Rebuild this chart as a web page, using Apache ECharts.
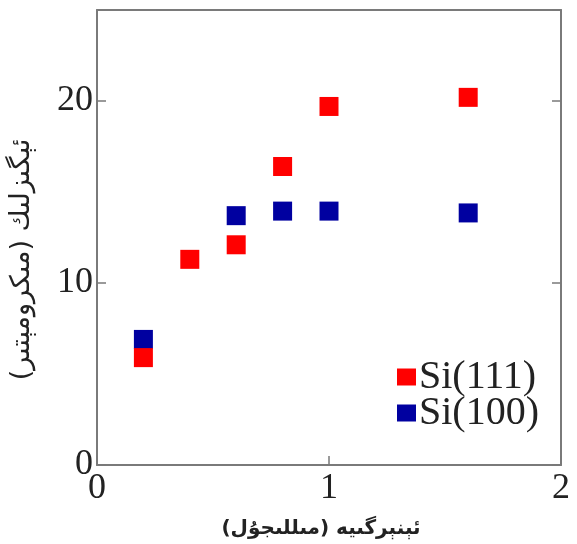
<!DOCTYPE html>
<html>
<head>
<meta charset="utf-8">
<script src="https://cdn.jsdelivr.net/npm/echarts@6/dist/echarts.min.js"></script>
<style>
  html, body { margin: 0; padding: 0; background: #fff; }
  #chart { width: 577px; height: 544px; }
</style>
</head>
<body>
<div id="chart"></div>
<script>
// values
const si111X = [0.2, 0.4, 0.6, 0.8, 1.0, 1.6];
const si111Y = [5.9, 11.3, 12.1, 16.4, 19.7, 20.2];
const si100X = [0.2, 0.6, 0.8, 1.0, 1.6];
const si100Y = [6.9, 13.7, 13.95, 13.95, 13.85];
const seriesNames = ["Si(111)", "Si(100)"];
const xTickLabels = ["0", "1", "2"];
const yTickLabels = ["0", "10", "20"];

const xName = "ئېنېرگىيە (مىللىجۇل)";
const yName = "ئېگىزلىك (مىكرومېتىر)";

const AXIS_COLOR = "#7a7a7a";
const SERIF = "Liberation Serif";
const ARABIC = "DejaVu Sans";

function pairs(xs, ys) {
  return xs.map((x, i) => [x, ys[i]]);
}

const chart = echarts.init(document.getElementById("chart"), null, { renderer: "canvas" });

const tickLabel = {
  fontFamily: SERIF,
  fontSize: 36,
  color: "#222",
};

// frame lines, ticks drawn inward
const frameLine = { show: true, onZero: false, lineStyle: { color: AXIS_COLOR, width: 2 } };
const innerTick = { show: true, inside: true, length: 9, lineStyle: { color: AXIS_COLOR, width: 1.5 } };

chart.setOption({
  animation: false,
  backgroundColor: "#fff",
  grid: { left: 96, right: 16, top: 10, bottom: 75 },
  legend: {
    orient: "vertical",
    left: 392,
    top: 352,
    itemWidth: 19,
    itemHeight: 17,
    itemGap: -4,
    icon: "rect",
    data: seriesNames,
    textStyle: { fontFamily: SERIF, fontSize: 40, color: "#222", padding: [0, 0, 0, -2] },
  },
  xAxis: [
    {
      type: "value",
      min: 0,
      max: 2,
      interval: 1,
      name: xName,
      nameLocation: "middle",
      nameGap: 54,
      nameTextStyle: { fontFamily: ARABIC, fontSize: 20, fontWeight: "bold", color: "#222", padding: [0, 16, 0, 0] },
      axisLine: frameLine,
      axisTick: innerTick,
      axisLabel: Object.assign({ margin: 6, formatter: (v) => xTickLabels[Math.round(v)] }, tickLabel),
      splitLine: { show: false },
    },
    {
      type: "value",
      position: "top",
      min: 0,
      max: 2,
      interval: 1,
      axisLine: frameLine,
      axisTick: { show: false },
      axisLabel: { show: false },
      splitLine: { show: false },
    },
  ],
  yAxis: [
    {
      type: "value",
      min: 0,
      max: 25,
      interval: 10,
      name: yName,
      nameLocation: "middle",
      nameGap: 62,
      nameRotate: 90,
      nameTextStyle: { fontFamily: ARABIC, fontSize: 27, color: "#222", padding: [0, 44, 0, 0] },
      axisLine: frameLine,
      axisTick: innerTick,
      axisLabel: Object.assign({ margin: 4, showMaxLabel: false, formatter: (v) => yTickLabels[v / 10] || "" }, tickLabel),
      splitLine: { show: false },
    },
    {
      type: "value",
      position: "right",
      min: 0,
      max: 25,
      interval: 10,
      axisLine: frameLine,
      axisTick: innerTick,
      axisLabel: { show: false },
      splitLine: { show: false },
    },
  ],
  series: [
    {
      name: seriesNames[1],
      type: "scatter",
      symbol: "rect",
      symbolSize: 19,
      itemStyle: { color: "#0000a0", opacity: 1 },
      data: pairs(si100X, si100Y),
      z: 2,
    },
    {
      name: seriesNames[0],
      type: "scatter",
      symbol: "rect",
      symbolSize: 19,
      itemStyle: { color: "#ff0000", opacity: 1 },
      data: pairs(si111X, si111Y),
      z: 3,
    },
  ],
});
</script>
</body>
</html>
